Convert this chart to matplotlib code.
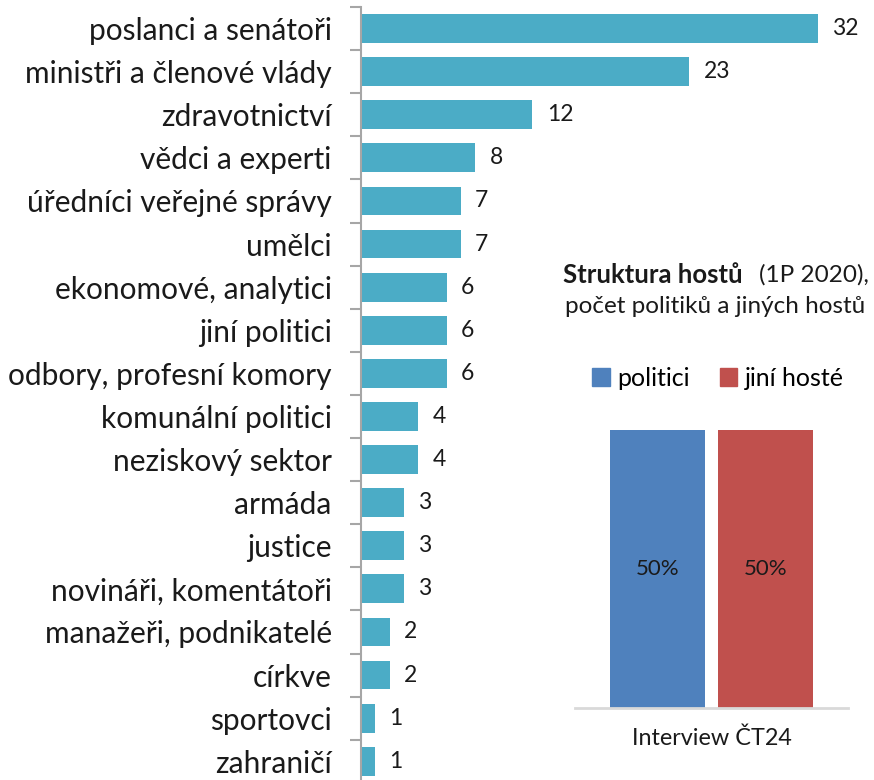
import matplotlib
matplotlib.use("Agg")
import matplotlib.pyplot as plt
from matplotlib.patches import Patch

plt.rcParams['font.family'] = ['Lato', 'DejaVu Sans']

categories = ["poslanci a senátoři", "ministři a členové vlády", "zdravotnictví",
              "vědci a experti", "úředníci veřejné správy", "umělci",
              "ekonomové, analytici", "jiní politici", "odbory, profesní komory",
              "komunální politici", "neziskový sektor", "armáda", "justice",
              "novináři, komentátoři", "manažeři, podnikatelé", "církve",
              "sportovci", "zahraničí"]
counts = [32, 23, 12, 8, 7, 7, 6, 6, 6, 4, 4, 3, 3, 3, 2, 2, 1, 1]

share_labels = ["politici", "jiní hosté"]
share_values = [0.50, 0.50]
share_category = "Interview ČT24"

TEAL = "#4BACC6"
BLUE = "#4F81BD"
RED = "#C0504D"
AXIS_GREY = "#A6A6A6"
TXT = "#1a1a1a"

W, H = 874, 780
fig = plt.figure(figsize=(W / 100, H / 100), dpi=100)

def fx(px):
    return px / W

def fy(py):
    return 1 - py / H

# Main horizontal bar chart
row = 43.1
top_px = 7
ax = fig.add_axes([fx(361), fy(top_px + row * len(categories)), fx(818 - 361), row * len(categories) / H])
ypos = list(range(len(categories)))
ax.barh(ypos, counts, height=0.67, color=TEAL)
ax.set_xlim(0, 32)
ax.set_ylim(len(categories) - 0.5, -0.5)
for y, v in zip(ypos, counts):
    ax.text(v + 1.0, y, str(v), va="center", ha="left", fontsize=16.5, color=TXT)
ax.set_yticks(ypos)
ax.set_yticklabels(categories, fontsize=21.5, color=TXT)
ax.set_yticks([i - 0.5 for i in range(len(categories) + 1)], minor=True)
ax.tick_params(axis="y", which="major", length=0, pad=21)
ax.tick_params(axis="y", which="minor", length=8, width=1.5, color=AXIS_GREY)
ax.set_xticks([])
for s in ("top", "right", "bottom"):
    ax.spines[s].set_visible(False)
ax.spines["left"].set_color(AXIS_GREY)
ax.spines["left"].set_linewidth(1.5)

# Inset: guest structure
ax2 = fig.add_axes([fx(575), fy(708), fx(848 - 575), (708 - 430) / H])
offsets = [-0.54, 0.54]
for off, val, lab, col in zip(offsets, share_values, share_labels, [BLUE, RED]):
    ax2.bar(off, val, width=0.95, color=col, label=lab)
    ax2.text(off, val / 2, f"{val:.0%}", ha="center", va="center", fontsize=16, color=TXT)
ax2.set_xlim(-1.365, 1.365)
ax2.set_ylim(0, 0.5)
ax2.set_yticks([])
ax2.set_xticks([0])
ax2.set_xticklabels([share_category], fontsize=16.8, color=TXT)
ax2.tick_params(axis="x", length=0, pad=14)
for s in ("top", "right", "left"):
    ax2.spines[s].set_visible(False)
ax2.spines["bottom"].set_color("#D9D9D9")
ax2.spines["bottom"].set_linewidth(2)

handles = [Patch(color=BLUE, label=share_labels[0]), Patch(color=RED, label=share_labels[1])]
fig.legend(handles=handles, loc="center", bbox_to_anchor=(fx(718), fy(378)), ncol=2,
           frameon=False, fontsize=18, handlelength=0.7, handleheight=0.7,
           handletextpad=0.3, columnspacing=1.2)

fig.text(fx(563), fy(275), "Struktura hostů", fontsize=18.5, fontweight="bold",
         ha="left", va="center", color=TXT)
fig.text(fx(869), fy(275), "(1P 2020),", fontsize=17.5, ha="right", va="center", color=TXT)
fig.text(fx(715), fy(307), "počet politiků a jiných hostů", fontsize=17.5, ha="center",
         va="center", color=TXT)

fig.savefig("out.png", dpi=100)
